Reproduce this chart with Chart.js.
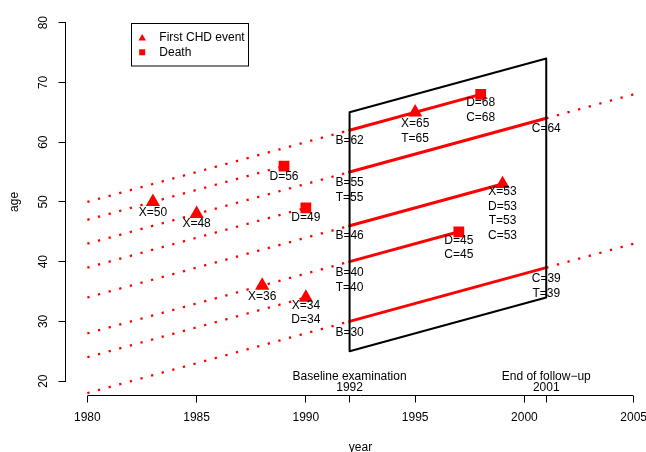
<!DOCTYPE html>
<html>
<head>
<meta charset="utf-8">
<script src="https://cdn.jsdelivr.net/npm/chart.js@4.4.1/dist/chart.umd.min.js"></script>
<style>
html,body{margin:0;padding:0;background:#fff;overflow:hidden}
#wrap{width:646px;height:452px;overflow:hidden;position:relative;background:#fff}
canvas{display:block}
</style>
</head>
<body>
<div id="wrap"><canvas id="c" width="672" height="452"></canvas></div>
<script>
const FONT = "'Liberation Sans', Arial, Helvetica, sans-serif";

// ---- data ----
// follow-up before baseline (dotted)
const preYearStart = [1980, 1980, 1980, 1980, 1980, 1980, 1980, 1980];
const preAgeStart  = [50, 47, 43, 39, 34, 28, 24, 18];
const preYearEnd   = [1992, 1989, 1992, 1990, 1992, 1992, 1990, 1992];
const preAgeEnd    = [62, 56, 55, 49, 46, 40, 34, 30];
// follow-up within the study (solid)
const studyYearStart = [1992, 1992, 1992, 1992, 1992];
const studyAgeStart  = [62, 55, 46, 40, 30];
const studyYearEnd   = [1998, 2001, 1999, 1997, 2001];
const studyAgeEnd    = [68, 64, 53, 45, 39];
// after end of follow-up (dotted)
const postYearStart = [2001, 2001];
const postAgeStart  = [64, 39];
const postYearEnd   = [2005, 2005];
const postAgeEnd    = [68, 43];
// study window (parallelogram)
const boxYears = [1992, 1992, 2001, 2001, 1992];
const boxAges  = [25, 65, 74, 34, 25];
// events
const chdYears   = [1983, 1985, 1988, 1990, 1995, 1999];
const chdAges    = [50, 48, 36, 34, 65, 53];
const deathYears = [1989, 1990, 1998, 1997];
const deathAges  = [56, 49, 68, 45];
// point labels: year, age of first line, lines
const labelYears = [1983, 1985, 1989, 1990, 1988, 1990, 1992, 1995, 1998, 2001, 1992, 1999, 1992, 1997, 1992, 2001, 1992];
const labelAges  = [48.2, 46.4, 54.3, 47.3, 34.1, 32.65, 60.3, 63.05, 66.55, 62.3, 53.2, 51.7, 44.3, 43.55, 38.1, 37.1, 28.1];
const labelTexts = [
  ['X=50'], ['X=48'], ['D=56'], ['D=49'], ['X=36'], ['X=34', 'D=34'],
  ['B=62'], ['X=65', 'T=65'], ['D=68', 'C=68'], ['C=64'], ['B=55', 'T=55'],
  ['X=53', 'D=53', 'T=53', 'C=53'], ['B=46'], ['D=45', 'C=45'],
  ['B=40', 'T=40'], ['C=39', 'T=39'], ['B=30']
];
// axes
const xTickValues = [1980, 1985, 1990, 1992, 1995, 2000, 2001, 2005];
const xTickLabels = ['1980', '1985', '1990', '', '1995', '2000', '', '2005'];
const yTickValues = [20, 30, 40, 50, 60, 70, 80];
const yTickLabels = ['20', '30', '40', '50', '60', '70', '80'];
const periodYears = [1992, 2001];
const periodTexts = [['Baseline examination', '1992'], ['End of follow\u2212up', '2001']];
const legendLabels = ['First CHD event', 'Death'];
const legendYear = 1982, legendAge = 80;

// ---- build datasets ----
const RED = '#ff0000';
const datasets = [];
datasets.push({
  data: boxYears.map((v, i) => ({x: v, y: boxAges[i]})),
  showLine: true, borderColor: '#000', borderWidth: 2, pointRadius: 0,
  borderCapStyle: 'round', borderJoinStyle: 'round', tension: 0, fill: false
});
function addSeg(ys, as, ye, ae, dotted) {
  for (let i = 0; i < ys.length; i++) {
    datasets.push({
      data: [{x: ys[i], y: as[i]}, {x: ye[i], y: ae[i]}],
      showLine: true, borderColor: RED,
      borderWidth: dotted ? 2.3 : 3,
      borderDash: dotted ? [2.3, 8.7] : [],
      borderCapStyle: dotted ? 'butt' : 'round',
      pointRadius: 0, tension: 0, fill: false
    });
  }
}
addSeg(preYearStart, preAgeStart, preYearEnd, preAgeEnd, true);
addSeg(postYearStart, postAgeStart, postYearEnd, postAgeEnd, true);
addSeg(studyYearStart, studyAgeStart, studyYearEnd, studyAgeEnd, false);
datasets.push({
  label: legendLabels[0],
  data: chdYears.map((v, i) => ({x: v, y: chdAges[i]})),
  showLine: false, pointStyle: 'triangle', pointRadius: 8.3,
  backgroundColor: RED, borderWidth: 0
});
datasets.push({
  label: legendLabels[1],
  data: deathYears.map((v, i) => ({x: v, y: deathAges[i]})),
  showLine: false, pointStyle: 'rect', pointRadius: 7.6,
  backgroundColor: RED, borderWidth: 0
});

// ---- extras plugin: axis lines, labels, legend ----
const extras = {
  id: 'extras',
  afterDraw(chart) {
    const {ctx, chartArea} = chart;
    const xs = chart.scales.x, ys = chart.scales.y;
    ctx.save();
    // axis lines spanning first to last tick (R style)
    ctx.strokeStyle = '#000';
    ctx.lineWidth = 1;
    ctx.beginPath();
    const al = p => Math.round(p - 0.5) + 0.5;
    ctx.moveTo(al(xs.getPixelForValue(xTickValues[0])), chartArea.bottom);
    ctx.lineTo(al(xs.getPixelForValue(xTickValues[xTickValues.length - 1])), chartArea.bottom);
    ctx.moveTo(chartArea.left, al(ys.getPixelForValue(yTickValues[0])));
    ctx.lineTo(chartArea.left, al(ys.getPixelForValue(yTickValues[yTickValues.length - 1])));
    ctx.stroke();

    // point labels
    ctx.fillStyle = '#000';
    ctx.font = '12px ' + FONT;
    ctx.textAlign = 'center';
    ctx.textBaseline = 'middle';
    labelTexts.forEach((lines, i) => {
      const px = xs.getPixelForValue(labelYears[i]);
      const py = ys.getPixelForValue(labelAges[i]);
      lines.forEach((t, j) => ctx.fillText(t, px, py + j * 14.6));
    });

    // period annotations above x axis
    periodYears.forEach((yr, i) => {
      const px = xs.getPixelForValue(yr);
      ctx.fillText(periodTexts[i][0], px, chartArea.bottom - 19);
      ctx.fillText(periodTexts[i][1], px, chartArea.bottom - 7.4);
    });

    // legend
    const bx = Math.round(xs.getPixelForValue(legendYear)) + 0.5;
    const by = Math.round(ys.getPixelForValue(legendAge)) + 0.5;
    ctx.strokeStyle = '#000';
    ctx.lineWidth = 1;
    ctx.strokeRect(bx, by, 117, 42.5);
    const mx = bx + 10.7;
    ctx.fillStyle = RED;
    const r = 4.4, ty = by + 14.8;
    ctx.beginPath();
    ctx.moveTo(mx, ty - r);
    ctx.lineTo(mx + r * 0.866, ty + r / 2);
    ctx.lineTo(mx - r * 0.866, ty + r / 2);
    ctx.closePath();
    ctx.fill();
    ctx.fillRect(mx - 3, by + 28.8 - 3, 6, 6);
    ctx.fillStyle = '#000';
    ctx.textAlign = 'left';
    ctx.fillText(legendLabels[0], bx + 27.8, by + 14.3);
    ctx.fillText(legendLabels[1], bx + 27.8, by + 29.3);
    ctx.restore();
  }
};

Chart.defaults.font.family = FONT;
Chart.defaults.font.size = 12;
Chart.defaults.color = '#000';

new Chart(document.getElementById('c'), {
  type: 'scatter',
  data: {datasets},
  plugins: [extras],
  options: {
    responsive: false,
    animation: false,
    devicePixelRatio: 1,
    events: [],
    layout: {padding: {left: 0, top: 4.5, right: 16.5, bottom: 0}},
    plugins: {legend: {display: false}, tooltip: {enabled: false}},
    scales: {
      x: {
        type: 'linear', position: 'bottom', min: 1979, max: 2006,
        afterBuildTicks: s => { s.ticks = xTickValues.map(v => ({value: v})); },
        afterFit: s => { s.height = 56.5; s.paddingLeft = 0; s.paddingRight = 0; },
        ticks: {
          autoSkip: false, minRotation: 0, maxRotation: 0, padding: 7.8, color: '#000',
          font: {family: FONT, size: 12},
          callback: (v, i) => xTickLabels[i]
        },
        grid: {display: true, drawOnChartArea: false, drawTicks: true, tickLength: 7, color: '#000', lineWidth: 1},
        border: {display: false},
        title: {display: true, text: 'year', color: '#000', font: {family: FONT, size: 12}, padding: {top: 0, bottom: -3.3}}
      },
      y: {
        type: 'linear', position: 'left', min: 17.6, max: 82.4,
        afterBuildTicks: s => { s.ticks = yTickValues.map(v => ({value: v})); },
        afterFit: s => { s.width = 65.5; s.paddingTop = 0; s.paddingBottom = 0; },
        ticks: {
          autoSkip: false, minRotation: 90, maxRotation: 90, crossAlign: 'center', padding: 8.5, color: '#000',
          font: {family: FONT, size: 12},
          callback: (v, i) => yTickLabels[i]
        },
        grid: {display: true, drawOnChartArea: false, drawTicks: true, tickLength: 7, color: '#000', lineWidth: 1},
        border: {display: false},
        title: {display: true, text: 'age', color: '#000', font: {family: FONT, size: 12}, padding: {top: 7, bottom: 0}}
      }
    }
  }
});
</script>
</body>
</html>
